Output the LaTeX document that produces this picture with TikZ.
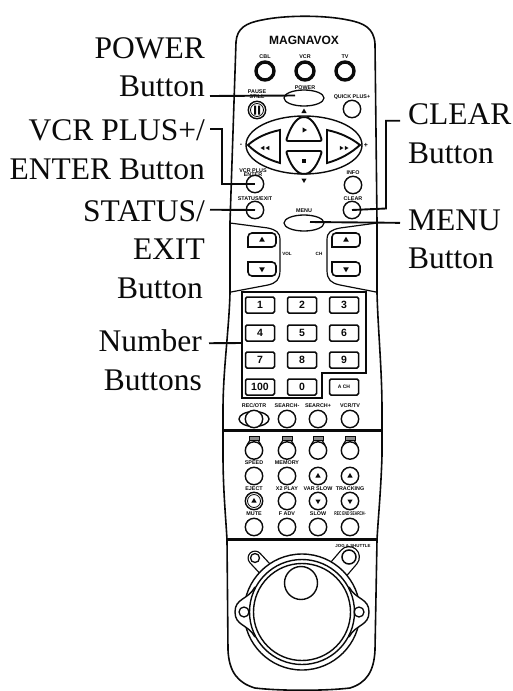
\documentclass[tikz,border=0pt]{standalone}
\usepackage{fontspec}
\setmainfont{Liberation Serif}
\newfontfamily\tagfamily{Liberation Sans}
\usetikzlibrary{shapes.geometric}
\definecolor{ink}{HTML}{0A0A0A}
\definecolor{lamp}{HTML}{8C8C8C}

\begin{document}
\begin{tikzpicture}[
    x=1pt, y=-1pt,
    lbl/.style={inner sep=0pt, text=ink, font=\fontsize{31.5}{38}\selectfont},
    lblr/.style={lbl, anchor=base east},
    lbll/.style={lbl, anchor=base west},
    tag/.style={inner sep=0pt, text=ink, font=\tagfamily\bfseries\fontsize{5.4}{5.6}\selectfont, align=center},
    lead/.style={draw=ink, line width=1.9pt},
    shell/.style={draw=ink, line width=1.6pt},
    btn/.style={circle, draw=ink, fill=white, line width=1.4pt, minimum size=17.4pt, inner sep=0pt},
    topbtn/.style={btn, line width=3.4pt, minimum size=18pt},
    oval/.style={ellipse, draw=ink, fill=white, line width=1.3pt, minimum width=40pt, minimum height=16pt, inner sep=0pt},
    numbtn/.style={rectangle, rounded corners=1.5pt, draw=ink, fill=white, line width=1.5pt,
                   minimum width=29pt, minimum height=16pt, inner sep=0pt, text=ink,
                   font=\tagfamily\bfseries\fontsize{10.5}{11}\selectfont},
    triup/.style={regular polygon, regular polygon sides=3, fill=ink, inner sep=0pt, minimum size=7pt},
    tridown/.style={triup, shape border rotate=180},
    triright/.style={triup, shape border rotate=-90},
    trileft/.style={triup, shape border rotate=90},
]
\useasboundingbox (0,0) rectangle (512,691);

% Body of the remote
\draw[shell] (236,42) .. controls (237,28) and (246,23) .. (262,20)
    .. controls (285,15) and (325,15) .. (348,20)
    .. controls (364,23) and (374,28) .. (375,44)
    -- (377,222) -- (377,293) .. controls (378,330) and (382,370) .. (382,410)
    -- (382,455) .. controls (381,490) and (378,520) .. (377,540)
    -- (375,650) .. controls (374,672) and (366,683) .. (350,688)
    .. controls (325,691) and (280,691) .. (255,688)
    .. controls (238,683) and (229,672) .. (228,650)
    -- (227,540) .. controls (226,520) and (223,490) .. (223,455)
    -- (223,410) .. controls (223,370) and (229,330) .. (230,293)
    -- (230,222) -- cycle;

% Brand and power row
\node[inner sep=0pt, text=ink, font=\tagfamily\bfseries\fontsize{12}{12}\selectfont] (brand) at (304,40) {MAGNAVOX};
\foreach \x/\t/\n in {265/CBL/cbl, 305/VCR/vcrsel, 345/TV/tv} {
    \node[tag] (\n tag) at (\x,57) {\t};
    \node[topbtn] (\n btn) at (\x,71) {};
}
\node[oval] (powerbtn) at (304,98) {};
\node[tag] (powertag) at (305,87.5) {POWER};
\node[tag] (pausetag) at (257,94) {PAUSE\\STILL};
\node[btn] (pausebtn) at (257,110) {};
\node[circle, draw=ink, line width=.8pt, minimum size=13pt, inner sep=0pt] (pausering) at (pausebtn) {};
\fill[ink] (254,105.5) rectangle (256,114.5) (258,105.5) rectangle (260,114.5);
\node[tag] (quicktag) at (352,97) {QUICK PLUS+};
\node[btn] (quickbtn) at (352,109) {};
\node[triup, minimum size=6pt] (markup) at (304,111.5) {};

% Transport cluster
\node[ellipse, draw=ink, line width=1.4pt, minimum width=116pt, minimum height=58pt, inner sep=0pt] (transport) at (304,145) {};
\draw[shell, line width=1.9pt, fill=white] (280,130) .. controls (266,133) and (256,138) .. (248,145)
    .. controls (256,153) and (266,159) .. (280,163) -- cycle;
\draw[shell, line width=1.9pt, fill=white] (327,130) .. controls (341,133) and (351,138) .. (360,145)
    .. controls (351,153) and (341,159) .. (327,163) -- cycle;
\draw[shell, line width=1.9pt, fill=white, rounded corners=2pt] (286,141) .. controls (290,128) and (296,118) .. (304,117)
    .. controls (312,118) and (318,128) .. (322,141) -- cycle;
\draw[shell, line width=1.9pt, fill=white, rounded corners=2pt] (286,151) .. controls (290,164) and (296,173) .. (304,174)
    .. controls (312,173) and (318,164) .. (322,151) -- cycle;
\node[triright, minimum size=6pt] (playmark) at (304,130) {};
\node[rectangle, fill=ink, minimum size=4.5pt, inner sep=0pt] (stopmark) at (304,161) {};
\node[trileft, minimum size=5pt] (rewa) at (263,148) {};
\node[trileft, minimum size=5pt] (rewb) at (268,148) {};
\node[triright, minimum size=5pt] (ffa) at (341,148) {};
\node[triright, minimum size=5pt] (ffb) at (346,148) {};
\node[tag, font=\tagfamily\bfseries\fontsize{7}{7}\selectfont] (minus) at (241,145.5) {-};
\node[tag, font=\tagfamily\bfseries\fontsize{7}{7}\selectfont] (plus) at (366,145.5) {+};
\node[tridown, minimum size=6pt] (markdown) at (304,180) {};

% Buttons under the cluster
\node[tag] (vcrtag) at (253,172.5) {VCR PLUS\\[-1pt]ENTER};
\node[btn] (vcrbtn) at (255,184) {};
\node[tag] (infotag) at (353,172.5) {INFO};
\node[btn] (infobtn) at (353,185) {};
\node[tag] (statustag) at (255,198.5) {STATUS/EXIT};
\node[btn] (statusbtn) at (255,210) {};
\node[tag] (cleartag) at (353,198.5) {CLEAR};
\node[btn] (clearbtn) at (352,210) {};
\node[oval] (menubtn) at (304,223) {};
\node[tag] (menutag) at (304,210.5) {MENU};

% Volume and channel panel
\draw[shell, line width=1.2pt] (230,223) -- (268,228) .. controls (276,230) and (280,232) .. (280,240)
    -- (280,270) .. controls (280,280) and (276,283) .. (268,285) -- (231,292);
\draw[shell, line width=1.2pt] (377,223) -- (340,228) .. controls (331,230) and (327,232) .. (327,240)
    -- (327,270) .. controls (327,280) and (331,283) .. (340,285) -- (376,292);
\foreach \x in {262,346} {
    \draw[shell, rounded corners=4pt] (\x-14,247) -- (\x-14,233) -- (\x+14,233) -- (\x+14,247) [sharp corners] -- cycle;
    \draw[shell, rounded corners=4pt] (\x-14,262) -- (\x-14,276) -- (\x+14,276) -- (\x+14,262) [sharp corners] -- cycle;
    \node[triup, minimum size=6.5pt] (up\x) at (\x,240) {};
    \node[tridown, minimum size=6.5pt] (down\x) at (\x,269) {};
}
\node[tag, font=\tagfamily\bfseries\fontsize{4.6}{5}\selectfont] (voltag) at (287,254) {VOL};
\node[tag, font=\tagfamily\bfseries\fontsize{4.6}{5}\selectfont] (chtag) at (319,254) {CH};

% Number block
\draw[lead, line width=2pt] (242,292) -- (366,292) -- (366,373) -- (322,373) -- (322,398) -- (242,398) -- cycle;
\foreach \x/\y/\n in {260/305/1, 302/305/2, 344/305/3, 260/333/4, 302/333/5, 344/333/6,
                      260/360/7, 302/360/8, 344/360/9, 260/387/100, 302/387/0} {
    \node[numbtn] (num\n) at (\x,\y) {\n};
}
\node[numbtn, font=\tagfamily\bfseries\fontsize{5}{5}\selectfont] (ach) at (344,387) {A CH};

% Recording row
\node[tag] (rectag) at (254,406) {REC/OTR};
\node[tag] (backtag) at (287,406) {SEARCH-};
\node[tag] (fwdtag) at (318,406) {SEARCH+};
\node[tag] (vcrtvtag) at (350,406) {VCR/TV};
\node[ellipse, draw=ink, line width=1.4pt, minimum width=30pt, minimum height=15pt, inner sep=0pt] (recring) at (254,419) {};
\foreach \x/\n in {254/rec, 287/back, 318/fwd, 350/vcrtv} {
    \node[btn] (\n btn) at (\x,419) {};
}
\draw[ink, line width=3pt] (224,430) -- (381,430);

% Lower keypad
\foreach \x [count=\i] in {254,287,318,350} {
    \draw[ink, line width=1.2pt] (\x-4,440) -- (\x-7,445) (\x+4,440) -- (\x+7,445);
    \node[rectangle, draw=ink, fill=lamp, line width=1pt, minimum width=10pt, minimum height=4pt, inner sep=0pt] (lamp\i) at (\x,438) {};
    \node[btn] (keya\i) at (\x,450.5) {};
    \node[btn] (keyb\i) at (\x,476) {};
    \node[btn] (keyc\i) at (\x,501) {};
    \node[btn] (keyd\i) at (\x,527) {};
}
\node[tag] (speedtag) at (254,463) {SPEED};
\node[tag] (memtag) at (287,463) {MEMORY};
\node[tag] (ejecttag) at (254,489) {EJECT};
\node[tag] (playtag) at (287,489) {X2 PLAY};
\node[tag] (vartag) at (318,489) {VAR SLOW};
\node[tag] (tracktag) at (350,489) {TRACKING};
\node[tag] (mutetag) at (254,514) {MUTE};
\node[tag] (advtag) at (287,514) {F ADV};
\node[tag] (slowtag) at (318,514) {SLOW};
\node[tag] (endtag) at (350,514) {\scalebox{.62}[1]{REC END SEARCH-}};
\node[triup, minimum size=6pt] (varup) at (keyb3) {};
\node[triup, minimum size=6pt] (trackup) at (keyb4) {};
\node[circle, draw=ink, line width=.8pt, minimum size=13pt, inner sep=0pt] (ejectring) at (keyc1) {};
\node[triup, minimum size=6pt] (ejectup) at (keyc1) {};
\node[tridown, minimum size=6pt] (vardown) at (keyc3) {};
\node[tridown, minimum size=6pt] (trackdown) at (keyc4) {};
\draw[ink, line width=3pt] (226,539) -- (378,539);

% Jog and shuttle dial
\node[tag, font=\tagfamily\bfseries\fontsize{4.4}{5}\selectfont] (jogtag) at (353,545.5) {JOG \& SHUTTLE};
\draw[ink, line width=15pt, line cap=round] (255,558) -- (268,572);
\draw[white, line width=12.4pt, line cap=round] (255,558) -- (268,572);
\draw[ink, line width=22pt, line cap=round] (349,557) -- (337,571);
\draw[white, line width=19.4pt, line cap=round] (349,557) -- (337,571);
\node[circle, draw=ink, line width=1.3pt, minimum size=9pt, inner sep=0pt] (lugleft) at (255,558) {};
\node[circle, draw=ink, line width=1.5pt, minimum size=14pt, inner sep=0pt] (lugright) at (349,557) {};
\node[circle, draw=ink, fill=white, line width=1.4pt, minimum size=116pt, inner sep=0pt] (rim) at (302,612) {};
\foreach \s in {-1,1} {
    \draw[shell, line width=1.4pt, fill=white, shift={(302,612)}, xscale=\s]
        (47,-25) .. controls (54,-12) and (67,-14) .. (67,0)
        .. controls (67,14) and (54,12) .. (47,25);
}
\node[circle, draw=ink, fill=white, line width=1.4pt, minimum size=105pt, inner sep=0pt] (rimin) at (rim) {};
\node[circle, draw=ink, fill=white, line width=1.4pt, minimum size=97pt, inner sep=0pt] (dial) at (rim) {};
\node[circle, draw=ink, fill=white, line width=1.4pt, minimum size=33pt, inner sep=0pt] (knob) at (301,583) {};
\node[circle, draw=ink, line width=1.3pt, minimum size=10pt, inner sep=0pt] (earleft) at (244,612) {};
\node[circle, draw=ink, line width=1.3pt, minimum size=10pt, inner sep=0pt] (earright) at (359,612) {};

% Labels
\node[lblr] (powerlbl) at (205,58) {POWER};
\node[lblr] (powerlblb) at (205,96) {Button};
\node[lblr] (vcrlbl) at (205,140) {VCR PLUS+/};
\node[lblr] (vcrlblb) at (205,179) {ENTER Button};
\node[lblr] (statuslbl) at (205,221) {STATUS/};
\node[lblr] (statuslblb) at (205,259) {EXIT};
\node[lblr] (statuslblc) at (203,298) {Button};
\node[lblr] (numlbl) at (202,351) {Number};
\node[lblr] (numlblb) at (202,390) {Buttons};
\node[lbll] (clearlbl) at (408,124) {CLEAR};
\node[lbll] (clearlblb) at (408,163) {Button};
\node[lbll] (menulbl) at (408,230) {MENU};
\node[lbll] (menulblb) at (408,268) {Button};

% Leaders
\coordinate (powertip) at (295,95.5);
\coordinate (vcrbend) at (222,184);
\coordinate (clearbend) at (386,208.5);
\coordinate (menutip) at (310,222);
\coordinate (numtip) at (242,343);
\draw[lead] ([xshift=5pt]powerlblb.base east) -- (powertip);
\draw[lead] ([xshift=5pt,yshift=1pt]vcrlbl.east) -| (vcrbend) -- (vcrbtn.center);
\draw[lead] ([xshift=5pt,yshift=1pt]statuslbl.east) -- (statusbtn.center);
\draw[lead] ([xshift=-8pt,yshift=-7pt]clearlbl.west) -| (clearbend) -- (clearbtn.center);
\draw[lead] ([xshift=-8pt,yshift=-3pt]menulbl.west) -- (menutip);
\draw[lead] ([xshift=7pt,yshift=-3pt]numlbl.east) -- (numtip);

\end{tikzpicture}
\end{document}
